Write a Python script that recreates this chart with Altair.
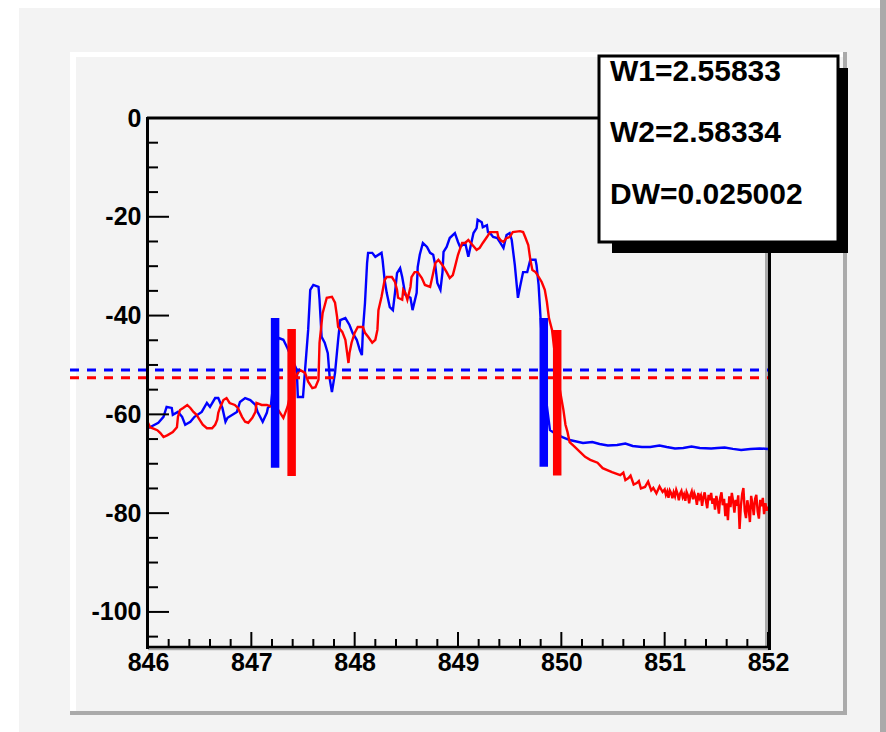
import altair as alt
import pandas as pd

# ---------------- data ----------------
blue_curve = [
    (846.00, -62.8), (846.10, -61.7), (846.15, -60.5), (846.18, -58.5), (846.23, -58.7),
    (846.24, -60.1), (846.29, -59.5), (846.33, -60.5), (846.36, -62.1), (846.41, -61.5),
    (846.45, -60.5), (846.52, -59.5), (846.57, -57.7), (846.60, -58.5), (846.65, -56.7),
    (846.68, -56.7), (846.72, -58.7), (846.75, -61.5), (846.77, -60.7), (846.86, -59.5),
    (846.89, -57.5), (846.94, -56.7), (846.99, -57.1), (847.04, -58.1), (847.06, -59.5),
    (847.11, -61.5), (847.15, -59.7), (847.16, -58.7), (847.19, -58.1),
    (847.26, -44.5), (847.31, -44.9), (847.35, -46.6), (847.44, -51.0), (847.45, -56.5),
    (847.50, -56.5), (847.52, -51.0), (847.55, -42.9), (847.57, -34.8), (847.60, -33.8),
    (847.65, -34.2), (847.66, -36.8), (847.68, -44.3), (847.71, -45.5), (847.74, -47.6),
    (847.76, -53.0), (847.78, -55.5), (847.81, -51.6), (847.84, -44.9), (847.86, -40.9),
    (847.91, -40.5), (847.95, -41.9), (847.98, -43.5), (848.02, -44.9), (848.05, -47.0),
    (848.07, -48.0), (848.08, -42.9), (848.10, -37.4), (848.12, -29.4), (848.13, -27.3),
    (848.17, -27.3), (848.20, -28.1), (848.26, -27.3), (848.27, -28.7), (848.29, -32.8),
    (848.31, -35.4), (848.34, -38.3), (848.37, -38.9), (848.39, -35.4), (848.41, -31.4),
    (848.44, -30.4), (848.46, -32.2), (848.49, -35.8), (848.54, -36.4), (848.56, -38.9),
    (848.60, -35.4), (848.61, -30.2), (848.63, -27.7), (848.66, -25.3), (848.70, -26.1),
    (848.73, -27.3), (848.76, -27.7), (848.78, -29.8), (848.80, -33.4), (848.83, -34.8),
    (848.85, -31.2), (848.86, -27.1), (848.89, -26.1), (848.92, -24.3), (848.97, -23.3),
    (849.00, -25.1), (849.02, -26.1), (849.07, -25.3), (849.10, -28.1), (849.12, -26.1),
    (849.15, -23.3), (849.18, -22.3), (849.19, -20.6), (849.23, -21.1), (849.24, -22.1),
    (849.28, -21.7), (849.29, -23.1), (849.31, -23.3), (849.34, -24.1), (849.38, -24.3),
    (849.41, -25.3), (849.44, -26.3), (849.47, -23.7), (849.50, -23.3), (849.52, -24.7),
    (849.55, -29.8), (849.57, -34.2), (849.58, -36.4), (849.60, -34.2), (849.63, -31.2),
    (849.67, -31.2), (849.70, -28.7), (849.75, -28.7), (849.76, -29.8), (849.78, -33.8),
    (849.80, -40.9), (849.84, -55.0), (849.89, -63.2), (849.95, -64.0), (850.01, -64.6),
    (850.08, -65.2), (850.21, -65.8), (850.30, -65.6), (850.37, -66.0), (850.45, -66.3),
    (850.54, -66.2), (850.62, -65.9), (850.69, -66.4), (850.78, -66.6), (850.86, -66.6),
    (850.95, -66.3), (851.02, -66.6), (851.10, -66.9), (851.18, -66.8), (851.26, -66.5),
    (851.34, -66.8), (851.45, -66.9), (851.51, -66.8), (851.58, -66.7), (851.66, -67.0),
    (851.74, -67.2), (851.83, -67.0), (851.92, -66.9), (852.00, -67.0),
]

red_curve = [
    (846.00, -61.7), (846.02, -62.6), (846.09, -63.2), (846.12, -63.8), (846.15, -64.6),
    (846.19, -64.2), (846.24, -63.6), (846.28, -62.6), (846.29, -60.5), (846.31, -59.1),
    (846.34, -58.7), (846.38, -58.1), (846.41, -58.7), (846.44, -59.5), (846.47, -60.1),
    (846.50, -61.1), (846.53, -62.1), (846.57, -62.8), (846.62, -62.8), (846.65, -62.1),
    (846.67, -61.1), (846.68, -59.7), (846.70, -58.5), (846.73, -57.1), (846.76, -56.7),
    (846.79, -57.7), (846.84, -58.1), (846.87, -58.7), (846.91, -60.5), (846.94, -61.5),
    (846.97, -61.7), (847.01, -60.7), (847.04, -59.5), (847.05, -57.7), (847.10, -58.1),
    (847.15, -58.1), (847.20, -58.5), (847.26, -59.1), (847.31, -60.7), (847.35, -58.5),
    (847.41, -53.0), (847.47, -51.0), (847.52, -51.6), (847.55, -53.4), (847.59, -54.7),
    (847.62, -54.5), (847.65, -53.0), (847.66, -45.5), (847.69, -39.5), (847.73, -36.4),
    (847.78, -36.2), (847.81, -37.4), (847.83, -40.3), (847.84, -42.3), (847.88, -43.3),
    (847.91, -44.9), (847.94, -49.6), (847.95, -47.6), (847.97, -45.5), (848.00, -43.5),
    (848.03, -42.3), (848.08, -42.3), (848.10, -43.5), (848.13, -44.3), (848.17, -45.5),
    (848.20, -44.9), (848.22, -42.9), (848.23, -38.9), (848.26, -36.2), (848.29, -32.8),
    (848.31, -32.2), (848.36, -32.2), (848.39, -33.2), (848.41, -34.8), (848.42, -36.4),
    (848.46, -36.8), (848.47, -34.8), (848.49, -35.4), (848.51, -36.8), (848.54, -34.2),
    (848.55, -32.2), (848.58, -31.2), (848.61, -31.2), (848.65, -32.4), (848.68, -33.8),
    (848.73, -34.2), (848.76, -31.4), (848.78, -29.4), (848.81, -28.7), (848.85, -29.8),
    (848.89, -31.2), (848.92, -32.4), (848.95, -31.8), (848.97, -30.2), (849.00, -27.7),
    (849.04, -25.3), (849.07, -25.3), (849.10, -24.7), (849.14, -25.7), (849.18, -26.7),
    (849.21, -26.3), (849.24, -25.3), (849.28, -24.1), (849.31, -23.1), (849.38, -23.1),
    (849.39, -24.1), (849.41, -24.7), (849.44, -25.1), (849.47, -24.3), (849.50, -24.1),
    (849.53, -23.1), (849.60, -22.9), (849.63, -23.1), (849.65, -24.1), (849.68, -25.7),
    (849.70, -28.7), (849.72, -30.8), (849.75, -31.2), (849.77, -31.8), (849.81, -33.2),
    (849.84, -34.8), (849.86, -37.2), (849.88, -40.5), (849.91, -42.9), (849.96, -52.0),
    (850.02, -59.1), (850.04, -62.1), (850.06, -63.6), (850.08, -65.6), (850.13, -66.6),
    (850.18, -67.6), (850.23, -68.6), (850.28, -69.2), (850.35, -69.8), (850.40, -70.9),
    (850.49, -71.7), (850.57, -72.3), (850.60, -71.8), (850.62, -73.3), (850.65, -72.9),
    (850.67, -72.4), (850.70, -74.2), (850.73, -73.9), (850.75, -73.5), (850.77, -75.0),
    (850.81, -74.7), (850.84, -73.6), (850.87, -75.4), (850.89, -74.9), (850.92, -76.0),
    (850.95, -74.6), (850.98, -75.7),
    (851.000, -75.2), (851.012, -76.3), (851.025, -75.6), (851.037, -76.9), (851.050, -75.4),
    (851.062, -75.9), (851.075, -77.0), (851.087, -75.8), (851.100, -76.6), (851.112, -75.3),
    (851.125, -76.1), (851.137, -77.4), (851.150, -76.0), (851.162, -75.5), (851.175, -76.8),
    (851.187, -76.2), (851.200, -77.5), (851.212, -75.7), (851.225, -76.4), (851.237, -78.0),
    (851.250, -76.3), (851.262, -75.6), (851.275, -77.2), (851.287, -76.0), (851.300, -76.8),
    (851.312, -78.3), (851.325, -75.9), (851.337, -77.0), (851.350, -76.4), (851.362, -78.5),
    (851.375, -76.7), (851.387, -75.8), (851.400, -77.6), (851.412, -79.0), (851.425, -76.3),
    (851.437, -77.4), (851.450, -75.9), (851.462, -78.1), (851.475, -77.0), (851.487, -79.3),
    (851.500, -76.5), (851.512, -77.8), (851.525, -80.1), (851.537, -76.9), (851.550, -75.8),
    (851.562, -78.4), (851.575, -77.1), (851.587, -80.6), (851.600, -78.0), (851.612, -81.4),
    (851.625, -76.6), (851.637, -78.8), (851.650, -75.9), (851.662, -77.5), (851.675, -79.9),
    (851.687, -77.3), (851.700, -78.5), (851.712, -76.4), (851.725, -83.2), (851.737, -78.7),
    (851.750, -76.1), (851.762, -74.9), (851.775, -79.6), (851.787, -81.0), (851.800, -77.4),
    (851.812, -78.9), (851.825, -81.8), (851.837, -76.5), (851.850, -78.2), (851.862, -80.4),
    (851.875, -77.1), (851.887, -76.3), (851.900, -79.7), (851.912, -81.1), (851.925, -77.3),
    (851.937, -78.6), (851.950, -76.9), (851.962, -80.2), (851.975, -78.0), (851.987, -79.5),
    (852.000, -78.7),
]

marker_series = ["blue", "red", "blue", "red"]
marker_x = [847.23, 847.39, 849.83, 849.96]
marker_top = [-40.5, -42.7, -40.5, -42.9]
marker_bottom = [-70.8, -72.5, -70.6, -72.4]

level_series = ["blue", "red"]
level_y = [-51.0, -52.6]

x_major = [846, 847, 848, 849, 850, 851, 852]
x_minor = [846.2, 846.4, 846.6, 846.8, 847.2, 847.4, 847.6, 847.8, 848.2, 848.4, 848.6,
           848.8, 849.2, 849.4, 849.6, 849.8, 850.2, 850.4, 850.6, 850.8, 851.2, 851.4,
           851.6, 851.8]
y_major = [0, -20, -40, -60, -80, -100]
y_minor = [-5, -10, -15, -25, -30, -35, -45, -50, -55, -65, -70, -75, -85, -90, -95, -105]

stat_lines = ["W1=2.55833", "W2=2.58334", "DW=0.025002"]
stat_line_y = [-46, 15, 77]   # pixel offsets of the stat box rows

# ---------------- styling ----------------
W, H = 620, 529
FONT = "Liberation Sans"
BG = "#f3f3f3"
EDGE = "#aaaaaa"
color_scale = alt.Scale(domain=["blue", "red"], range=["#0000ff", "#ff0000"])
xs = alt.Scale(domain=[846, 852], nice=False, zero=False)
ys = alt.Scale(domain=[-107.1, 0], nice=False, zero=False)

rows = []
for i, (x, y) in enumerate(blue_curve):
    rows.append({"series": "blue", "x": x, "y": y, "i": i})
for i, (x, y) in enumerate(red_curve):
    rows.append({"series": "red", "x": x, "y": y, "i": i})
curves = pd.DataFrame(rows)
markers = pd.DataFrame({"series": marker_series, "x": marker_x,
                        "top": marker_top, "bottom": marker_bottom})
levels = pd.DataFrame({"series": level_series, "y": level_y})
one = pd.DataFrame({"a": [0]})


def box(x1, x2, y1, y2, color):
    return alt.Chart(one).mark_rect(color=color).encode(
        x=alt.value(x1), x2=alt.value(x2), y=alt.value(y1), y2=alt.value(y2))


def hline(y, x1, x2, color, w):
    return alt.Chart(one).mark_rule(color=color, strokeWidth=w).encode(
        x=alt.value(x1), x2=alt.value(x2), y=alt.value(y))


def vline(x, y1, y2, color, w):
    return alt.Chart(one).mark_rule(color=color, strokeWidth=w).encode(
        x=alt.value(x), y=alt.value(y1), y2=alt.value(y2))


# canvas and pad decorations (pixel offsets relative to the frame origin)
canvas = box(-129, 732, -110, 614, BG)
canvas_edge = box(732, 738, -118, 614, EDGE)
pad_top = box(-78, 699, -66, -61, "white")
pad_left = box(-78, -72, -66, 597, "white")
pad_bottom = box(-78, 699, 593, 597, EDGE)
pad_right = box(695, 699, -66, 597, EDGE)

frame_right_gray = vline(618.5, 0, 531, EDGE, 3)
frame_bottom_gray = hline(531, 0, 621, EDGE, 2.5)

curve_layer = alt.Chart(curves).mark_line(strokeWidth=2.4, interpolate="linear").encode(
    x=alt.X("x:Q", scale=xs,
            axis=alt.Axis(values=x_major, title="", domain=False, ticks=False, grid=False,
                          labelFont=FONT, labelFontSize=25, labelFontWeight="bold",
                          labelColor="black", labelPadding=3, labelFlush=False,
                          labelOverlap=False, labelExpr="'' + datum.value", zindex=1)),
    y=alt.Y("y:Q", scale=ys,
            axis=alt.Axis(values=y_major, title="", domain=False, ticks=False, grid=False,
                          labelFont=FONT, labelFontSize=25, labelFontWeight="bold",
                          labelColor="black", labelPadding=7, labelOverlap=False,
                          labelExpr="'' + datum.value", zindex=1)),
    color=alt.Color("series:N", scale=color_scale, legend=None),
    order=alt.Order("i:Q"),
)

level_layer = alt.Chart(levels).mark_rule(strokeWidth=3, strokeDash=[9, 8]).encode(
    x=alt.value(-78), x2=alt.value(622),
    y=alt.Y("y:Q", scale=ys),
    color=alt.Color("series:N", scale=color_scale, legend=None),
)

marker_layer = alt.Chart(markers).mark_rule(strokeWidth=8.5).encode(
    x=alt.X("x:Q", scale=xs),
    y=alt.Y("top:Q", scale=ys),
    y2="bottom:Q",
    color=alt.Color("series:N", scale=color_scale, legend=None),
)

ytick_major = alt.Chart(pd.DataFrame({"v": y_major})).mark_rule(
    color="black", strokeWidth=2).encode(
    y=alt.Y("v:Q", scale=ys), x=alt.value(0), x2=alt.value(21))
ytick_minor = alt.Chart(pd.DataFrame({"v": y_minor})).mark_rule(
    color="black", strokeWidth=2).encode(
    y=alt.Y("v:Q", scale=ys), x=alt.value(0), x2=alt.value(10))
xtick_major = alt.Chart(pd.DataFrame({"v": x_major})).mark_rule(
    color="black", strokeWidth=2).encode(
    x=alt.X("v:Q", scale=xs), y=alt.value(H), y2=alt.value(H - 15))
xtick_minor = alt.Chart(pd.DataFrame({"v": x_minor})).mark_rule(
    color="black", strokeWidth=2).encode(
    x=alt.X("v:Q", scale=xs), y=alt.value(H), y2=alt.value(H - 8))

frame_top = hline(0, -1, 622, "black", 3)
frame_left = vline(-0.5, -1, 531, "black", 3)
frame_bottom = hline(529, -1, 621, "black", 2.5)
frame_right = vline(621.5, -1, 532, "black", 3)

stat_shadow = box(464, 700, -50, 135, "black")
stat_box = alt.Chart(one).mark_rect(fill="white", stroke="black", strokeWidth=3).encode(
    x=alt.value(451), x2=alt.value(690), y=alt.value(-62), y2=alt.value(124))
stat_texts = [
    alt.Chart(pd.DataFrame({"t": [line]})).mark_text(
        font=FONT, fontSize=30, fontWeight="bold", align="left", baseline="middle",
        color="black").encode(text="t:N", x=alt.value(462), y=alt.value(yy))
    for line, yy in zip(stat_lines, stat_line_y)
]

chart = alt.layer(
    canvas, canvas_edge, pad_top, pad_left, pad_bottom, pad_right,
    frame_right_gray, frame_bottom_gray,
    curve_layer, level_layer, marker_layer,
    ytick_major, ytick_minor, xtick_major, xtick_minor,
    frame_top, frame_left, frame_bottom, frame_right,
    stat_shadow, stat_box, *stat_texts,
).properties(
    width=W, height=H,
    padding={"left": 148, "top": 118, "right": 118, "bottom": 85},
    autosize=alt.AutoSizeParams(type="none"),
).configure(background="white").configure_view(strokeWidth=0)

chart.save("out.html", embed_options={"renderer": "svg", "actions": False})
